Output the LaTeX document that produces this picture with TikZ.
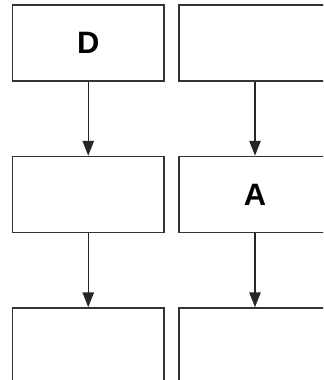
\documentclass[tikz,border=0pt]{standalone}
\usepackage{fontspec}
\setmainfont{Liberation Sans}
\usepackage{tikz}
\usetikzlibrary{arrows.meta}

\tikzset{
  cell/.style={draw=black!80,line width=1.1pt,fill=white,inner sep=0pt,
    minimum width=3.79cm,minimum height=1.9cm,
    font=\fontsize{22}{24}\selectfont\bfseries},
  flow/.style={draw=black!85,line width=1pt,-{Triangle[length=10.5pt,width=8pt]}}
}

\begin{document}
\begin{tikzpicture}[x=0.025cm,y=-0.025cm]
		    \useasboundingbox (0,0) rectangle (323,380);
		    \clip (0,0) rectangle (323,380);
		
		    % left column
		    \node[cell] (d1) at (88.25,43){D};
		    \node[cell] (l2) at (88.25,194.5){};
		    \node[cell] (l3) at (88.25,346){};
		
		    % right column
		    \node[cell] (r1) at (255,43){};
		    \node[cell] (a2) at (255,194.5){A};
		    \node[cell] (r3) at (255,346){};
		
		    \draw[flow] (d1.south) -- (l2.north);
		    \draw[flow] (l2.south) -- (l3.north);
		    \draw[flow] (r1.south) -- (a2.north);
		    \draw[flow] (a2.south) -- (r3.north);
	    \end{tikzpicture}
\end{document}
